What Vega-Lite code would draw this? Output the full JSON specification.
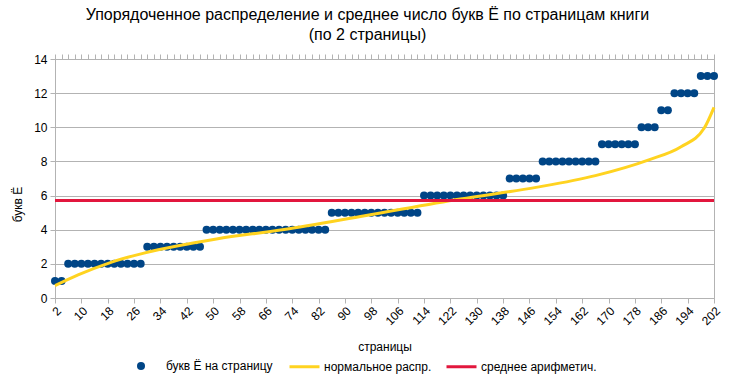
{
  "$schema": "https://vega.github.io/schema/vega-lite/v6.json",
  "width": 659,
  "height": 239,
  "autosize": "none",
  "padding": {"left": 55, "top": 59, "right": 21, "bottom": 86},
  "background": "white",
  "config": {
    "view": {"stroke": "#b3b3b3", "strokeWidth": 1},
    "font": "Liberation Sans"
  },
  "title": {
    "text": ["Упорядоченное распределение и среднее число букв Ё по страницам книги", "(по 2 страницы)"],
    "font": "Liberation Sans",
    "fontSize": 16,
    "fontWeight": "normal",
    "color": "#000000",
    "lineHeight": 20,
    "offset": 10,
    "dx": -17,
    "anchor": "middle"
  },
  "resolve": {"axis": {"x": "independent"}},
  "layer": [
    {
      "data": {"values": [
        {"page": 2, "count": 1, "series": "букв Ё на страницу"},
        {"page": 4, "count": 1, "series": "букв Ё на страницу"},
        {"page": 6, "count": 2, "series": "букв Ё на страницу"},
        {"page": 8, "count": 2, "series": "букв Ё на страницу"},
        {"page": 10, "count": 2, "series": "букв Ё на страницу"},
        {"page": 12, "count": 2, "series": "букв Ё на страницу"},
        {"page": 14, "count": 2, "series": "букв Ё на страницу"},
        {"page": 16, "count": 2, "series": "букв Ё на страницу"},
        {"page": 18, "count": 2, "series": "букв Ё на страницу"},
        {"page": 20, "count": 2, "series": "букв Ё на страницу"},
        {"page": 22, "count": 2, "series": "букв Ё на страницу"},
        {"page": 24, "count": 2, "series": "букв Ё на страницу"},
        {"page": 26, "count": 2, "series": "букв Ё на страницу"},
        {"page": 28, "count": 2, "series": "букв Ё на страницу"},
        {"page": 30, "count": 3, "series": "букв Ё на страницу"},
        {"page": 32, "count": 3, "series": "букв Ё на страницу"},
        {"page": 34, "count": 3, "series": "букв Ё на страницу"},
        {"page": 36, "count": 3, "series": "букв Ё на страницу"},
        {"page": 38, "count": 3, "series": "букв Ё на страницу"},
        {"page": 40, "count": 3, "series": "букв Ё на страницу"},
        {"page": 42, "count": 3, "series": "букв Ё на страницу"},
        {"page": 44, "count": 3, "series": "букв Ё на страницу"},
        {"page": 46, "count": 3, "series": "букв Ё на страницу"},
        {"page": 48, "count": 4, "series": "букв Ё на страницу"},
        {"page": 50, "count": 4, "series": "букв Ё на страницу"},
        {"page": 52, "count": 4, "series": "букв Ё на страницу"},
        {"page": 54, "count": 4, "series": "букв Ё на страницу"},
        {"page": 56, "count": 4, "series": "букв Ё на страницу"},
        {"page": 58, "count": 4, "series": "букв Ё на страницу"},
        {"page": 60, "count": 4, "series": "букв Ё на страницу"},
        {"page": 62, "count": 4, "series": "букв Ё на страницу"},
        {"page": 64, "count": 4, "series": "букв Ё на страницу"},
        {"page": 66, "count": 4, "series": "букв Ё на страницу"},
        {"page": 68, "count": 4, "series": "букв Ё на страницу"},
        {"page": 70, "count": 4, "series": "букв Ё на страницу"},
        {"page": 72, "count": 4, "series": "букв Ё на страницу"},
        {"page": 74, "count": 4, "series": "букв Ё на страницу"},
        {"page": 76, "count": 4, "series": "букв Ё на страницу"},
        {"page": 78, "count": 4, "series": "букв Ё на страницу"},
        {"page": 80, "count": 4, "series": "букв Ё на страницу"},
        {"page": 82, "count": 4, "series": "букв Ё на страницу"},
        {"page": 84, "count": 4, "series": "букв Ё на страницу"},
        {"page": 86, "count": 5, "series": "букв Ё на страницу"},
        {"page": 88, "count": 5, "series": "букв Ё на страницу"},
        {"page": 90, "count": 5, "series": "букв Ё на страницу"},
        {"page": 92, "count": 5, "series": "букв Ё на страницу"},
        {"page": 94, "count": 5, "series": "букв Ё на страницу"},
        {"page": 96, "count": 5, "series": "букв Ё на страницу"},
        {"page": 98, "count": 5, "series": "букв Ё на страницу"},
        {"page": 100, "count": 5, "series": "букв Ё на страницу"},
        {"page": 102, "count": 5, "series": "букв Ё на страницу"},
        {"page": 104, "count": 5, "series": "букв Ё на страницу"},
        {"page": 106, "count": 5, "series": "букв Ё на страницу"},
        {"page": 108, "count": 5, "series": "букв Ё на страницу"},
        {"page": 110, "count": 5, "series": "букв Ё на страницу"},
        {"page": 112, "count": 5, "series": "букв Ё на страницу"},
        {"page": 114, "count": 6, "series": "букв Ё на страницу"},
        {"page": 116, "count": 6, "series": "букв Ё на страницу"},
        {"page": 118, "count": 6, "series": "букв Ё на страницу"},
        {"page": 120, "count": 6, "series": "букв Ё на страницу"},
        {"page": 122, "count": 6, "series": "букв Ё на страницу"},
        {"page": 124, "count": 6, "series": "букв Ё на страницу"},
        {"page": 126, "count": 6, "series": "букв Ё на страницу"},
        {"page": 128, "count": 6, "series": "букв Ё на страницу"},
        {"page": 130, "count": 6, "series": "букв Ё на страницу"},
        {"page": 132, "count": 6, "series": "букв Ё на страницу"},
        {"page": 134, "count": 6, "series": "букв Ё на страницу"},
        {"page": 136, "count": 6, "series": "букв Ё на страницу"},
        {"page": 138, "count": 6, "series": "букв Ё на страницу"},
        {"page": 140, "count": 7, "series": "букв Ё на страницу"},
        {"page": 142, "count": 7, "series": "букв Ё на страницу"},
        {"page": 144, "count": 7, "series": "букв Ё на страницу"},
        {"page": 146, "count": 7, "series": "букв Ё на страницу"},
        {"page": 148, "count": 7, "series": "букв Ё на страницу"},
        {"page": 150, "count": 8, "series": "букв Ё на страницу"},
        {"page": 152, "count": 8, "series": "букв Ё на страницу"},
        {"page": 154, "count": 8, "series": "букв Ё на страницу"},
        {"page": 156, "count": 8, "series": "букв Ё на страницу"},
        {"page": 158, "count": 8, "series": "букв Ё на страницу"},
        {"page": 160, "count": 8, "series": "букв Ё на страницу"},
        {"page": 162, "count": 8, "series": "букв Ё на страницу"},
        {"page": 164, "count": 8, "series": "букв Ё на страницу"},
        {"page": 166, "count": 8, "series": "букв Ё на страницу"},
        {"page": 168, "count": 9, "series": "букв Ё на страницу"},
        {"page": 170, "count": 9, "series": "букв Ё на страницу"},
        {"page": 172, "count": 9, "series": "букв Ё на страницу"},
        {"page": 174, "count": 9, "series": "букв Ё на страницу"},
        {"page": 176, "count": 9, "series": "букв Ё на страницу"},
        {"page": 178, "count": 9, "series": "букв Ё на страницу"},
        {"page": 180, "count": 10, "series": "букв Ё на страницу"},
        {"page": 182, "count": 10, "series": "букв Ё на страницу"},
        {"page": 184, "count": 10, "series": "букв Ё на страницу"},
        {"page": 186, "count": 11, "series": "букв Ё на страницу"},
        {"page": 188, "count": 11, "series": "букв Ё на страницу"},
        {"page": 190, "count": 12, "series": "букв Ё на страницу"},
        {"page": 192, "count": 12, "series": "букв Ё на страницу"},
        {"page": 194, "count": 12, "series": "букв Ё на страницу"},
        {"page": 196, "count": 12, "series": "букв Ё на страницу"},
        {"page": 198, "count": 13, "series": "букв Ё на страницу"},
        {"page": 200, "count": 13, "series": "букв Ё на страницу"},
        {"page": 202, "count": 13, "series": "букв Ё на страницу"}
      ]},
      "mark": {"type": "point", "filled": true, "size": 64, "opacity": 1},
      "encoding": {
        "x": {
          "field": "page", "type": "quantitative",
          "scale": {"domain": [2, 202], "nice": false, "zero": false},
          "axis": {
            "title": "страницы",
            "values": [2,10,18,26,34,42,50,58,66,74,82,90,98,106,114,122,130,138,146,154,162,170,178,186,194,202],
            "labelAngle": -45,
            "labelFontSize": 12,
            "labelColor": "#000000",
            "labelOverlap": false,
            "labelFlush": false,
            "labelBound": false,
            "labelPadding": 2,
            "tickColor": "#b3b3b3",
            "tickSize": 5,
            "domainColor": "#b3b3b3",
            "grid": false,
            "titleFontSize": 12,
            "titleFontWeight": "normal",
            "titleColor": "#000000",
            "titleY": 48,
            "titleBaseline": "middle"
          }
        },
        "y": {
          "field": "count", "type": "quantitative",
          "scale": {"domain": [0, 14], "nice": false},
          "axis": {
            "title": "букв Ё",
            "values": [0, 2, 4, 6, 8, 10, 12, 14],
            "tickCount": 8,
            "labelFontSize": 12,
            "labelColor": "#000000",
            "labelOverlap": false,
            "labelBound": false,
            "labelPadding": 3,
            "tickColor": "#b3b3b3",
            "tickSize": 5,
            "domainColor": "#b3b3b3",
            "grid": true,
            "gridColor": "#b3b3b3",
            "titleFontSize": 12,
            "titleFontWeight": "normal",
            "titleColor": "#000000",
            "titleX": -38,
            "titleY": 145,
            "titleBaseline": "middle",
            "titleAngle": -90
          }
        },
        "fill": {
          "field": "series", "type": "nominal",
          "scale": {"domain": ["букв Ё на страницу"], "range": ["#004586"]},
          "legend": {
            "title": null, "orient": "none", "legendX": 80, "legendY": 301, "direction": "horizontal",
            "symbolType": "circle", "symbolSize": 64, "symbolStrokeWidth": 0,
            "labelFontSize": 12, "labelColor": "#000000", "labelOffset": 19
          }
        }
      }
    },
    {
      "data": {"values": [
        {"page": 2, "count": 0.72, "series": "нормальное распр."},
        {"page": 9, "count": 1.35, "series": "нормальное распр."},
        {"page": 19, "count": 2.09, "series": "нормальное распр."},
        {"page": 29, "count": 2.63, "series": "нормальное распр."},
        {"page": 39, "count": 3.05, "series": "нормальное распр."},
        {"page": 51, "count": 3.46, "series": "нормальное распр."},
        {"page": 71, "count": 4.0, "series": "нормальное распр."},
        {"page": 96, "count": 4.82, "series": "нормальное распр."},
        {"page": 125, "count": 5.8, "series": "нормальное распр."},
        {"page": 148, "count": 6.48, "series": "нормальное распр."},
        {"page": 166, "count": 7.17, "series": "нормальное распр."},
        {"page": 182, "count": 8.08, "series": "нормальное распр."},
        {"page": 192, "count": 8.86, "series": "нормальное распр."},
        {"page": 199, "count": 9.94, "series": "нормальное распр."},
        {"page": 202, "count": 11.17, "series": "нормальное распр."}
      ]},
      "mark": {"type": "line", "interpolate": "monotone", "strokeWidth": 3},
      "encoding": {
        "x": {
          "field": "page", "type": "quantitative",
          "axis": {
            "title": null,
            "values": [2,4,6,8,10,12,14,16,18,20,22,24,26,28,30,32,34,36,38,40,42,44,46,48,50,52,54,56,58,60,62,64,66,68,70,72,74,76,78,80,82,84,86,88,90,92,94,96,98,100,102,104,106,108,110,112,114,116,118,120,122,124,126,128,130,132,134,136,138,140,142,144,146,148,150,152,154,156,158,160,162,164,166,168,170,172,174,176,178,180,182,184,186,188,190,192,194,196,198,200,202],
            "labels": false,
            "grid": false,
            "tickColor": "#b3b3b3",
            "tickSize": 5,
            "domainColor": "#b3b3b3"
          }
        },
        "y": {"field": "count", "type": "quantitative"},
        "stroke": {
          "field": "series", "type": "nominal",
          "scale": {"domain": ["нормальное распр.", "среднее арифметич."], "range": ["#ffd320", "#e2173d"]},
          "legend": {
            "title": null, "orient": "none", "legendX": 233, "legendY": 291, "direction": "horizontal",
            "symbolType": "stroke", "symbolSize": 900, "symbolStrokeWidth": 3,
            "labelFontSize": 12, "labelColor": "#000000", "labelOffset": 3, "columnPadding": 8
          }
        }
      }
    },
    {
      "data": {"values": [
        {"count": 5.71, "series": "среднее арифметич."}
      ]},
      "mark": {"type": "rule", "strokeWidth": 3},
      "encoding": {
        "y": {"field": "count", "type": "quantitative"},
        "stroke": {"field": "series", "type": "nominal"}
      }
    }
  ]
}
